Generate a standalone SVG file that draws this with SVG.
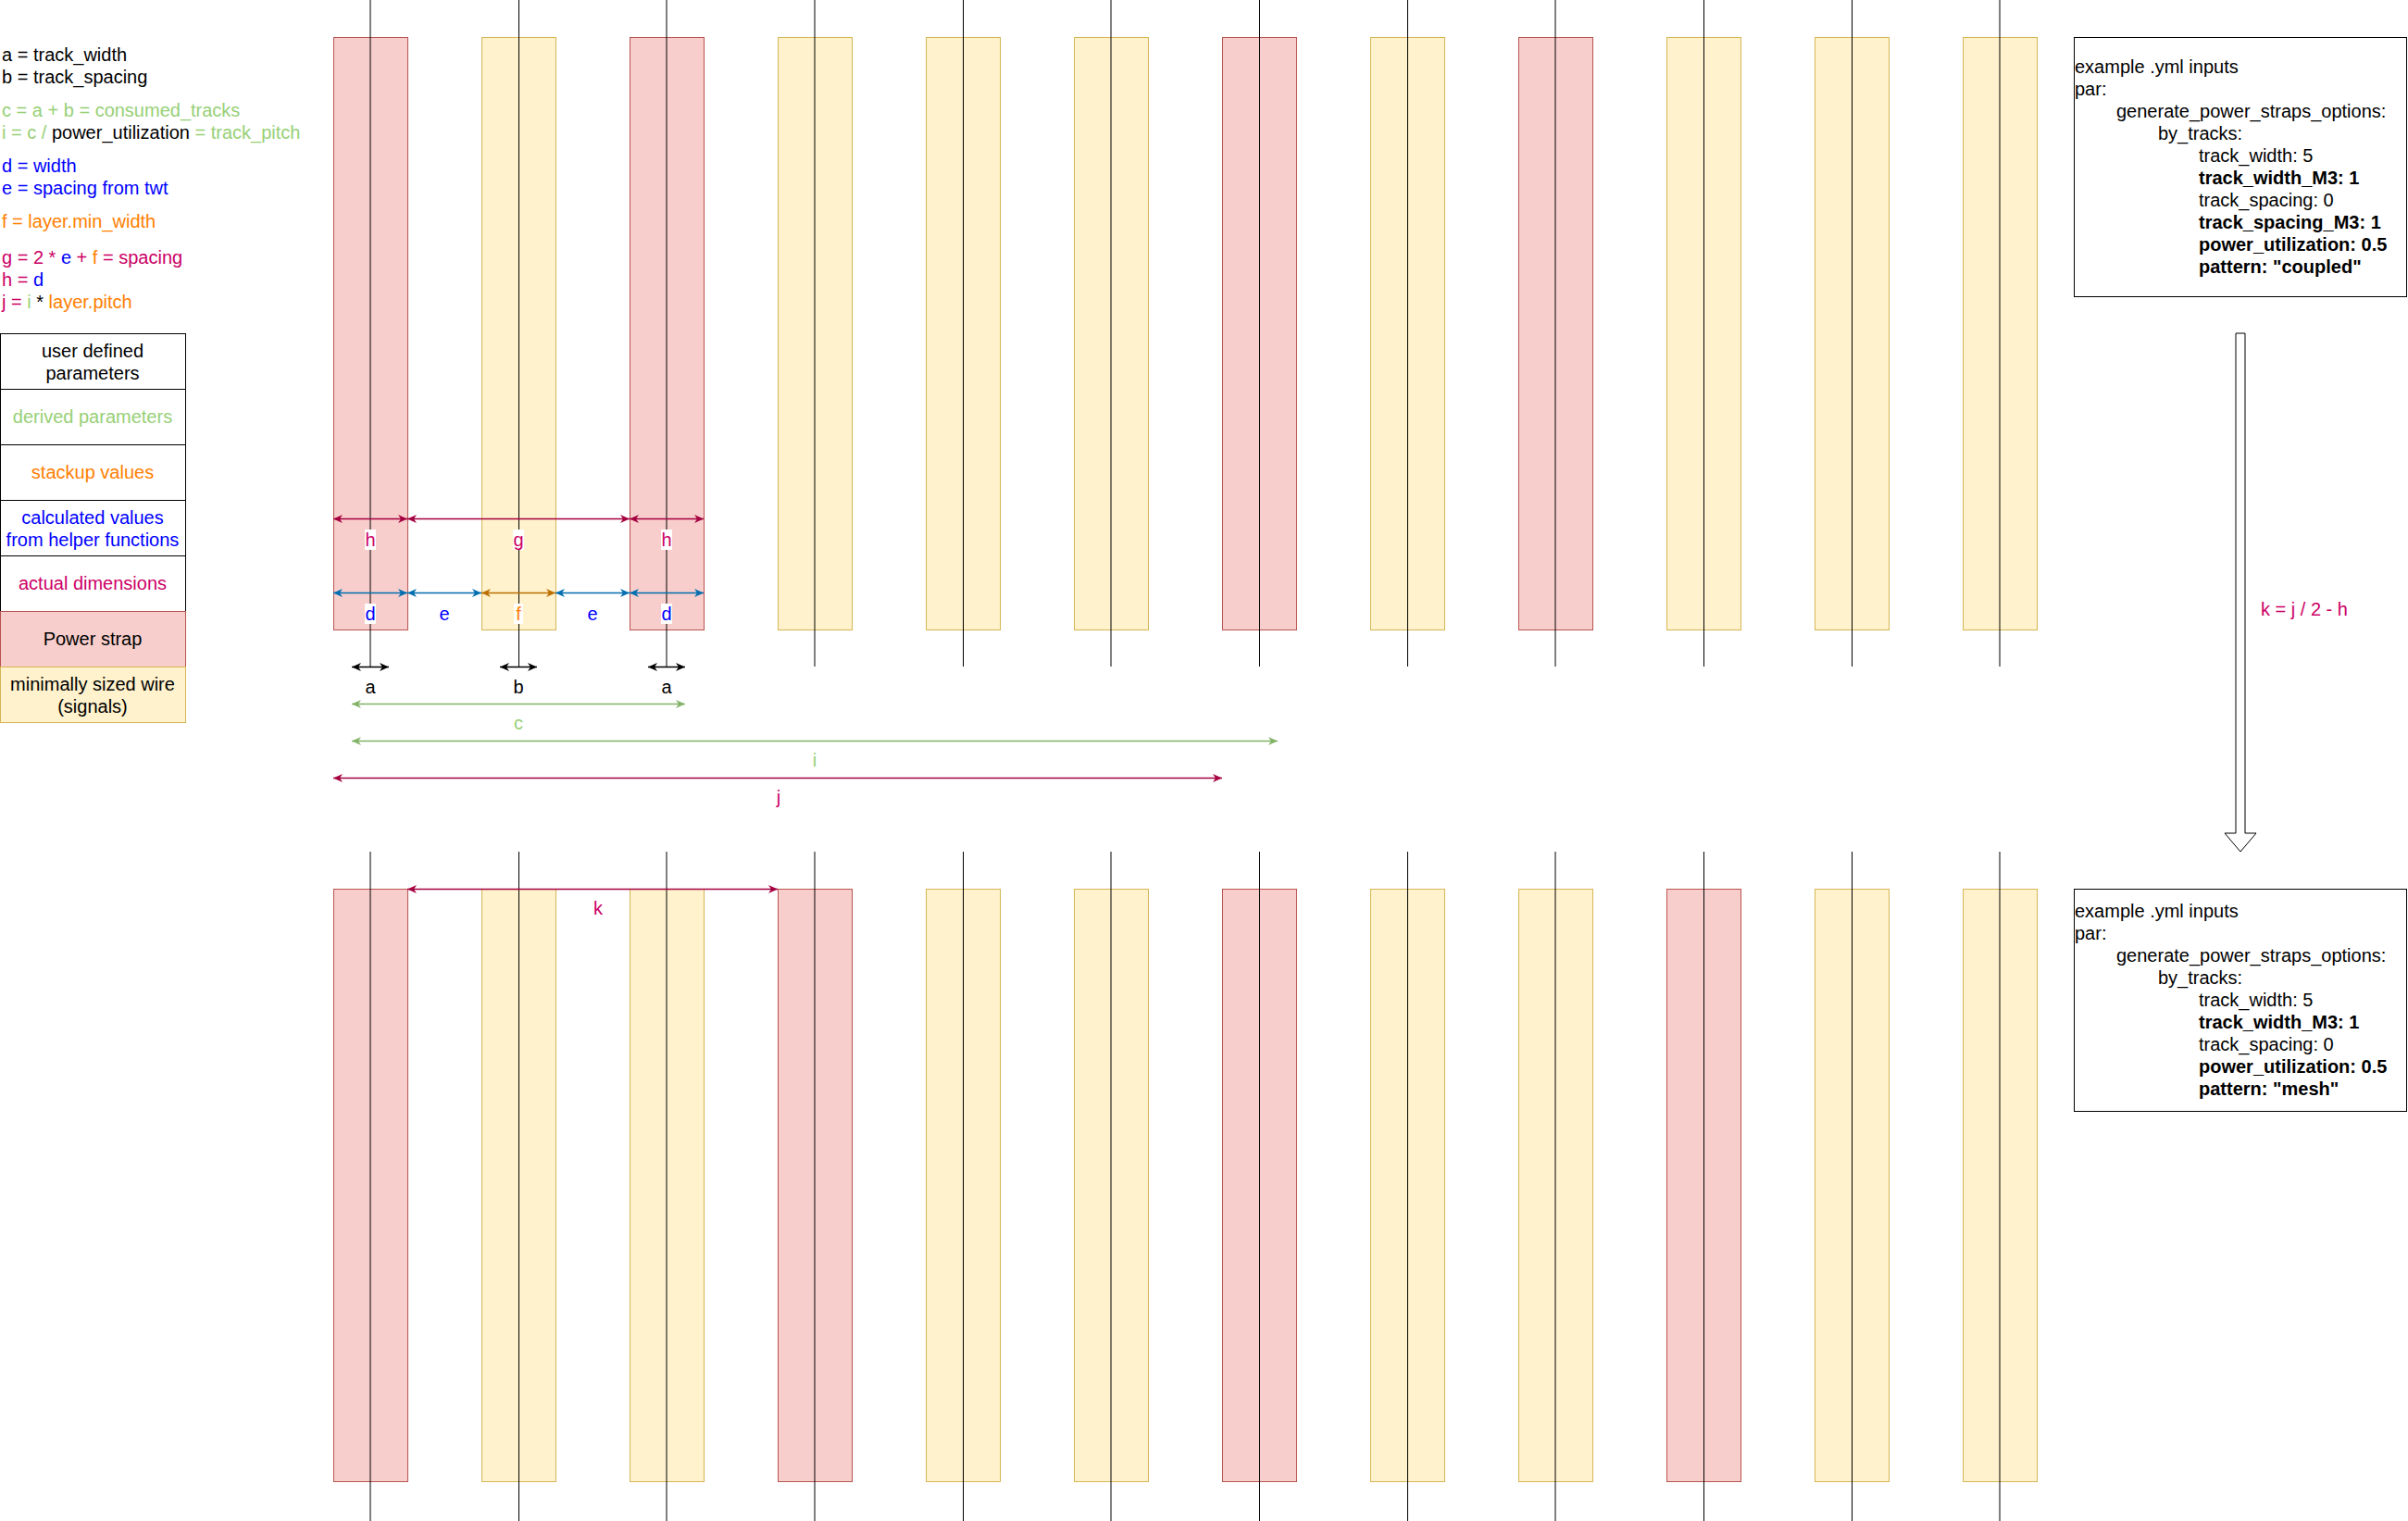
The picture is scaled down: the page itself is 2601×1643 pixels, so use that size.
<svg xmlns="http://www.w3.org/2000/svg" width="2601" height="1643" viewBox="0 0 2601 1643">
<style>
text{font-family:"Liberation Sans",Arial,sans-serif;font-size:20px;fill:#000}
.c{text-anchor:middle}
.b{font-weight:bold}
.red{fill:#f8cecc;stroke:#b85450;stroke-width:1}
.yel{fill:#fff2cc;stroke:#d6b656;stroke-width:1}
.box{fill:#fff;stroke:#000;stroke-width:1}
.vl{stroke:#000;stroke-width:1}
.lg{fill:#97D077}.bl{fill:#0000FF}.or{fill:#FF8000}.cr{fill:#CC0066}.bk{fill:#000}
.dr{stroke:#A50040;stroke-width:1.5;fill:none;marker-start:url(#mr);marker-end:url(#mr)}
.db{stroke:#006EAF;stroke-width:1.5;fill:none;marker-start:url(#mb);marker-end:url(#mb)}
.do{stroke:#BD7000;stroke-width:1.5;fill:none;marker-start:url(#mo);marker-end:url(#mo)}
.dk{stroke:#000;stroke-width:1.5;fill:none;marker-start:url(#mk);marker-end:url(#mk)}
.dg{stroke:#82B366;stroke-width:1.5;fill:none;marker-start:url(#mg);marker-end:url(#mg)}
.lbg{fill:#fff}
</style>
<defs>
<marker id="mr" viewBox="0 0 10 9" markerWidth="10" markerHeight="9" refX="10" refY="4.5" orient="auto-start-reverse" markerUnits="userSpaceOnUse"><path d="M0,0 L10,4.5 L0,9 L3,4.5 Z" fill="#A50040"/></marker>
<marker id="mb" viewBox="0 0 10 9" markerWidth="10" markerHeight="9" refX="10" refY="4.5" orient="auto-start-reverse" markerUnits="userSpaceOnUse"><path d="M0,0 L10,4.5 L0,9 L3,4.5 Z" fill="#006EAF"/></marker>
<marker id="mo" viewBox="0 0 10 9" markerWidth="10" markerHeight="9" refX="10" refY="4.5" orient="auto-start-reverse" markerUnits="userSpaceOnUse"><path d="M0,0 L10,4.5 L0,9 L3,4.5 Z" fill="#BD7000"/></marker>
<marker id="mk" viewBox="0 0 10 9" markerWidth="10" markerHeight="9" refX="10" refY="4.5" orient="auto-start-reverse" markerUnits="userSpaceOnUse"><path d="M0,0 L10,4.5 L0,9 L3,4.5 Z" fill="#000"/></marker>
<marker id="mg" viewBox="0 0 10 9" markerWidth="10" markerHeight="9" refX="10" refY="4.5" orient="auto-start-reverse" markerUnits="userSpaceOnUse"><path d="M0,0 L10,4.5 L0,9 L3,4.5 Z" fill="#82B366"/></marker>
</defs>
<rect width="2601" height="1643" fill="#fff"/>

<g id="legend-text">
<text x="2" y="66">a = track_width</text>
<text x="2" y="90">b = track_spacing</text>
<text x="2" y="126" class="lg">c = a + b = consumed_tracks</text>
<text x="2" y="150"><tspan class="lg">i = c / </tspan><tspan class="bk">power_utilization</tspan><tspan class="lg"> = track_pitch</tspan></text>
<text x="2" y="186" class="bl">d = width</text>
<text x="2" y="210" class="bl">e = spacing from twt</text>
<text x="2" y="246" class="or">f = layer.min_width</text>
<text x="2" y="285"><tspan class="cr">g = 2 * </tspan><tspan class="bl">e</tspan><tspan class="cr"> + </tspan><tspan class="or">f</tspan><tspan class="cr"> = spacing</tspan></text>
<text x="2" y="309"><tspan class="cr">h = </tspan><tspan class="bl">d</tspan></text>
<text x="2" y="333"><tspan class="cr">j = </tspan><tspan class="lg">i</tspan><tspan class="bk"> * </tspan><tspan class="or">layer.pitch</tspan></text>
</g>

<g id="legend-user"><rect class="box" x="0.5" y="360.5" width="200" height="60"/><text class="c" x="100" y="386">user defined</text><text class="c" x="100" y="410">parameters</text></g>
<g id="legend-derived"><rect class="box" x="0.5" y="420.5" width="200" height="60"/><text class="c lg" x="100" y="457">derived parameters</text></g>
<g id="legend-stackup"><rect class="box" x="0.5" y="480.5" width="200" height="60"/><text class="c or" x="100" y="517">stackup values</text></g>
<g id="legend-calc"><rect class="box" x="0.5" y="540.5" width="200" height="60"/><text class="c bl" x="100" y="566">calculated values</text><text class="c bl" x="100" y="590">from helper functions</text></g>
<g id="legend-actual"><rect class="box" x="0.5" y="600.5" width="200" height="60"/><text class="c cr" x="100" y="637">actual dimensions</text></g>
<g id="legend-power"><rect class="red" x="0.5" y="660.5" width="200" height="60"/><text class="c" x="100" y="697">Power strap</text></g>
<g id="legend-wire"><rect class="yel" x="0.5" y="720.5" width="200" height="60"/><text class="c" x="100" y="746">minimally sized wire</text><text class="c" x="100" y="770">(signals)</text></g>

<g id="top-straps">
<rect id="t1" class="red" x="360.5" y="40.5" width="80" height="640"/>
<rect id="t2" class="yel" x="520.5" y="40.5" width="80" height="640"/>
<rect id="t3" class="red" x="680.5" y="40.5" width="80" height="640"/>
<rect id="t4" class="yel" x="840.5" y="40.5" width="80" height="640"/>
<rect id="t5" class="yel" x="1000.5" y="40.5" width="80" height="640"/>
<rect id="t6" class="yel" x="1160.5" y="40.5" width="80" height="640"/>
<rect id="t7" class="red" x="1320.5" y="40.5" width="80" height="640"/>
<rect id="t8" class="yel" x="1480.5" y="40.5" width="80" height="640"/>
<rect id="t9" class="red" x="1640.5" y="40.5" width="80" height="640"/>
<rect id="t10" class="yel" x="1800.5" y="40.5" width="80" height="640"/>
<rect id="t11" class="yel" x="1960.5" y="40.5" width="80" height="640"/>
<rect id="t12" class="yel" x="2120.5" y="40.5" width="80" height="640"/>
</g>

<g id="bottom-straps">
<rect id="b1" class="red" x="360.5" y="960.5" width="80" height="640"/>
<rect id="b2" class="yel" x="520.5" y="960.5" width="80" height="640"/>
<rect id="b3" class="yel" x="680.5" y="960.5" width="80" height="640"/>
<rect id="b4" class="red" x="840.5" y="960.5" width="80" height="640"/>
<rect id="b5" class="yel" x="1000.5" y="960.5" width="80" height="640"/>
<rect id="b6" class="yel" x="1160.5" y="960.5" width="80" height="640"/>
<rect id="b7" class="red" x="1320.5" y="960.5" width="80" height="640"/>
<rect id="b8" class="yel" x="1480.5" y="960.5" width="80" height="640"/>
<rect id="b9" class="yel" x="1640.5" y="960.5" width="80" height="640"/>
<rect id="b10" class="red" x="1800.5" y="960.5" width="80" height="640"/>
<rect id="b11" class="yel" x="1960.5" y="960.5" width="80" height="640"/>
<rect id="b12" class="yel" x="2120.5" y="960.5" width="80" height="640"/>
</g>

<g id="connectors">
<g id="track-lines-top">
<line class="vl" x1="400" y1="0" x2="400" y2="720"/>
<line class="vl" x1="560.5" y1="0" x2="560.5" y2="720"/>
<line class="vl" x1="720" y1="0" x2="720" y2="720"/>
<line class="vl" x1="880" y1="0" x2="880" y2="720"/>
<line class="vl" x1="1040.5" y1="0" x2="1040.5" y2="720"/>
<line class="vl" x1="1200" y1="0" x2="1200" y2="720"/>
<line class="vl" x1="1360.5" y1="0" x2="1360.5" y2="720"/>
<line class="vl" x1="1520.5" y1="0" x2="1520.5" y2="720"/>
<line class="vl" x1="1680" y1="0" x2="1680" y2="720"/>
<line class="vl" x1="1840.5" y1="0" x2="1840.5" y2="720"/>
<line class="vl" x1="2000.5" y1="0" x2="2000.5" y2="720"/>
<line class="vl" x1="2160" y1="0" x2="2160" y2="720"/>
</g>
<g id="track-lines-bottom">
<line class="vl" x1="400" y1="920" x2="400" y2="1643"/>
<line class="vl" x1="560.5" y1="920" x2="560.5" y2="1643"/>
<line class="vl" x1="720" y1="920" x2="720" y2="1643"/>
<line class="vl" x1="880" y1="920" x2="880" y2="1643"/>
<line class="vl" x1="1040.5" y1="920" x2="1040.5" y2="1643"/>
<line class="vl" x1="1200" y1="920" x2="1200" y2="1643"/>
<line class="vl" x1="1360.5" y1="920" x2="1360.5" y2="1643"/>
<line class="vl" x1="1520.5" y1="920" x2="1520.5" y2="1643"/>
<line class="vl" x1="1680" y1="920" x2="1680" y2="1643"/>
<line class="vl" x1="1840.5" y1="920" x2="1840.5" y2="1643"/>
<line class="vl" x1="2000.5" y1="920" x2="2000.5" y2="1643"/>
<line class="vl" x1="2160" y1="920" x2="2160" y2="1643"/>
</g>
<line class="dr" x1="360" y1="560.5" x2="440" y2="560.5"/>
<line class="dr" x1="440" y1="560.5" x2="680" y2="560.5"/>
<line class="dr" x1="680" y1="560.5" x2="760" y2="560.5"/>
<line class="db" x1="360" y1="640.5" x2="440" y2="640.5"/>
<line class="db" x1="440" y1="640.5" x2="520" y2="640.5"/>
<line class="do" x1="520" y1="640.5" x2="600" y2="640.5"/>
<line class="db" x1="600" y1="640.5" x2="680" y2="640.5"/>
<line class="db" x1="680" y1="640.5" x2="760" y2="640.5"/>
<line class="dk" x1="380" y1="720.5" x2="420" y2="720.5"/>
<line class="dk" x1="540" y1="720.5" x2="580" y2="720.5"/>
<line class="dk" x1="700" y1="720.5" x2="740" y2="720.5"/>
<line class="dg" x1="380" y1="760.5" x2="740" y2="760.5"/>
<line class="dg" x1="380" y1="800.5" x2="1380" y2="800.5"/>
<line class="dr" x1="360" y1="840.5" x2="1320" y2="840.5"/>
<line class="dr" x1="440" y1="960.5" x2="840" y2="960.5"/>
</g>

<g id="dim-labels">
<rect class="lbg" x="394" y="572" width="12" height="22"/><text class="c cr" x="400" y="590">h</text>
<rect class="lbg" x="554" y="572" width="12" height="22"/><text class="c cr" x="560" y="590">g</text>
<rect class="lbg" x="714" y="572" width="12" height="22"/><text class="c cr" x="720" y="590">h</text>
<rect class="lbg" x="394" y="652" width="12" height="22"/><text class="c bl" x="400" y="670">d</text>
<text class="c bl" x="480" y="670">e</text>
<rect class="lbg" x="555" y="652" width="10" height="22"/><text class="c or" x="560" y="670">f</text>
<text class="c bl" x="640" y="670">e</text>
<rect class="lbg" x="714" y="652" width="12" height="22"/><text class="c bl" x="720" y="670">d</text>
<text class="c" x="400" y="749">a</text>
<text class="c" x="560" y="749">b</text>
<text class="c" x="720" y="749">a</text>
<text class="c lg" x="560" y="788">c</text>
<text class="c lg" x="880" y="828">i</text>
<text class="c cr" x="841" y="868">j</text>
<text class="c cr" x="646" y="988">k</text>
</g>

<g id="yml-coupled">
<rect class="box" x="2240.5" y="40.5" width="359" height="280"/>
<text x="2241" y="79">example .yml inputs</text>
<text x="2241" y="103">par:</text>
<text x="2286" y="127">generate_power_straps_options:</text>
<text x="2331" y="151">by_tracks:</text>
<text x="2375" y="175">track_width: 5</text>
<text x="2375" y="199" class="b">track_width_M3: 1</text>
<text x="2375" y="223">track_spacing: 0</text>
<text x="2375" y="247" class="b">track_spacing_M3: 1</text>
<text x="2375" y="271" class="b">power_utilization: 0.5</text>
<text x="2375" y="295" class="b">pattern: "coupled"</text>
</g>

<g id="transform-arrow">
<path d="M2415,360 L2425,360 L2425,900 L2437,900 L2420,920 L2403,900 L2415,900 Z" fill="#fff" stroke="#000" stroke-width="1"/>
</g>
<g id="k-formula"><text x="2442" y="665" class="cr">k = j / 2 - h</text></g>

<g id="yml-mesh">
<rect class="box" x="2240.5" y="960.5" width="359" height="240"/>
<text x="2241" y="991">example .yml inputs</text>
<text x="2241" y="1015">par:</text>
<text x="2286" y="1039">generate_power_straps_options:</text>
<text x="2331" y="1063">by_tracks:</text>
<text x="2375" y="1087">track_width: 5</text>
<text x="2375" y="1111" class="b">track_width_M3: 1</text>
<text x="2375" y="1135">track_spacing: 0</text>
<text x="2375" y="1159" class="b">power_utilization: 0.5</text>
<text x="2375" y="1183" class="b">pattern: "mesh"</text>
</g>
</svg>
